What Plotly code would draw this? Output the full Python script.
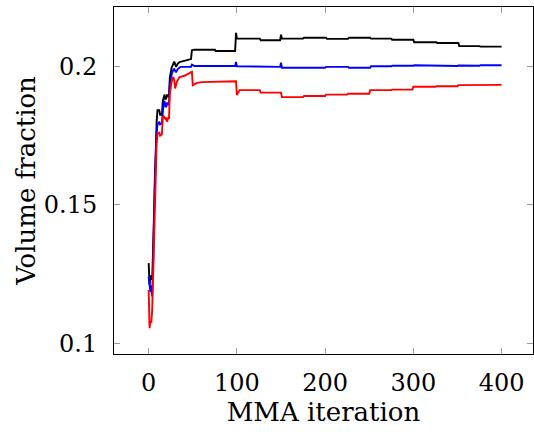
import plotly.graph_objects as go

# MMA iteration / volume fraction samples
black_it = [0, 1, 2, 3, 4, 5, 7, 9, 10, 12, 13, 15, 16, 17, 18, 19, 20, 21, 22, 23, 24, 26, 28, 29, 31, 33, 35, 40, 45, 48,
            49, 52, 75, 76, 98, 99, 100, 126, 127, 149, 150, 151, 175, 176, 201, 202, 226, 227, 251, 252, 275, 276, 300,
            301, 326, 327, 351, 352, 375, 376, 400]
black_v = [0.1290, 0.1210, 0.1240, 0.1245, 0.1230, 0.1350, 0.1650, 0.1800, 0.1842, 0.1842, 0.1825, 0.1825, 0.1875,
           0.1895, 0.1898, 0.1880, 0.1885, 0.1898, 0.1890, 0.1895, 0.1960, 0.1995, 0.2012, 0.2017, 0.1998, 0.2010,
           0.2015, 0.2020, 0.2025, 0.2026, 0.2058, 0.2060, 0.2060, 0.2055, 0.2055, 0.2121, 0.2100, 0.2100, 0.2094,
           0.2094, 0.2114, 0.2100, 0.2100, 0.2103, 0.2103, 0.2099, 0.2099, 0.2103, 0.2103, 0.2100, 0.2100, 0.2096,
           0.2096, 0.2087, 0.2087, 0.2084, 0.2084, 0.2073, 0.2073, 0.2071, 0.2071]

blue_it = [0, 1, 2, 3, 4, 5, 7, 9, 10, 12, 13, 15, 16, 17, 18, 19, 20, 21, 22, 23, 24, 26, 28, 29, 31, 33, 36, 48, 49,
           52, 98, 99, 100, 149, 150, 151, 200, 201, 226, 227, 251, 252, 275, 276, 300, 301, 350, 351, 375, 376, 400]
blue_v = [0.1241, 0.1200, 0.1185, 0.1210, 0.1170, 0.1280, 0.1600, 0.1760, 0.1790, 0.1800, 0.1790, 0.1795, 0.1850,
          0.1870, 0.1875, 0.1855, 0.1855, 0.1870, 0.1860, 0.1865, 0.1930, 0.1970, 0.1988, 0.1990, 0.1978, 0.1990,
          0.1998, 0.1998, 0.2006, 0.2001, 0.2001, 0.2016, 0.2000, 0.1998, 0.2013, 0.1995, 0.1995, 0.1998, 0.1998,
          0.1995, 0.1995, 0.2000, 0.2000, 0.2002, 0.2002, 0.2004, 0.2001, 0.2003, 0.2002, 0.2004, 0.2004]

red_it = [0, 1, 2, 3, 4, 5, 7, 9, 10, 12, 13, 15, 16, 17, 19, 20, 21, 22, 23, 24, 26, 28, 29, 30, 32, 35, 40, 48, 49,
          50, 55, 60, 98, 99, 100, 103, 126, 127, 150, 151, 175, 176, 200, 201, 225, 226, 250, 251, 275, 276, 299,
          300, 325, 326, 350, 351, 400]
red_v = [0.1193, 0.1055, 0.1080, 0.1075, 0.1120, 0.1250, 0.1550, 0.1720, 0.1757, 0.1760, 0.1750, 0.1755, 0.1815,
         0.1820, 0.1810, 0.1815, 0.1800, 0.1815, 0.1810, 0.1900, 0.1945, 0.1961, 0.1950, 0.1920, 0.1945, 0.1961,
         0.1965, 0.1980, 0.1980, 0.1932, 0.1940, 0.1943, 0.1946, 0.1946, 0.1896, 0.1914, 0.1914, 0.1905, 0.1905,
         0.1889, 0.1889, 0.1893, 0.1893, 0.1898, 0.1898, 0.1901, 0.1901, 0.1914, 0.1914, 0.1916, 0.1916, 0.1926,
         0.1926, 0.1928, 0.1928, 0.1932, 0.1933]

x_ticks = [0, 100, 200, 300, 400]
y_ticks = [0.1, 0.15, 0.2]
y_tick_text = ["0.1", "0.15", "0.2"]

FONT = "DejaVu Serif"
FSIZE = 26
TSIZE = 24

fig = go.Figure()
for xs, ys, col in [(black_it, black_v, "#000000"), (blue_it, blue_v, "#0000ff"), (red_it, red_v, "#ff0000")]:
    fig.add_trace(go.Scatter(x=xs, y=ys, mode="lines", line=dict(color=col, width=1.9), showlegend=False))

axis_common = dict(
    showline=True, linecolor="black", linewidth=1, mirror="ticks",
    ticks="inside", ticklen=6, tickcolor="#9a9a9a", tickwidth=1,
    showgrid=False, zeroline=False,
    tickfont=dict(family=FONT, size=TSIZE, color="black"),
)

fig.update_layout(
    width=534, height=435,
    margin=dict(l=114, r=1, t=7, b=81),
    paper_bgcolor="white", plot_bgcolor="white",
    font=dict(family=FONT),
    xaxis=dict(range=[-39.3, 435.6], tickvals=x_ticks, ticklabelstandoff=7,
               title=dict(text="MMA iteration", font=dict(family=FONT, size=FSIZE, color="black"), standoff=5),
               **axis_common),
    yaxis=dict(range=[0.0962, 0.2214], tickvals=y_ticks, ticktext=y_tick_text, ticklabelstandoff=11,
               title=dict(text="Volume fraction", font=dict(family=FONT, size=FSIZE, color="black"), standoff=0),
               **axis_common),
)

fig.write_html("out.html")
